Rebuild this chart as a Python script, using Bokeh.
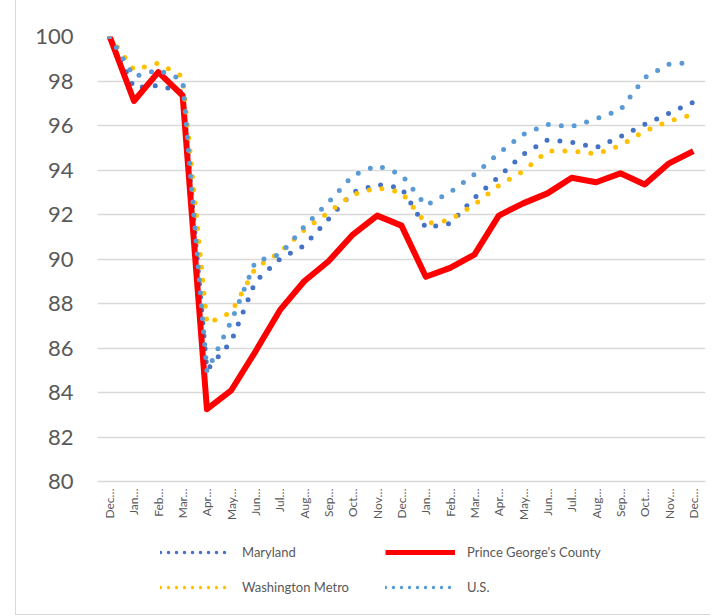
from bokeh.plotting import figure
from bokeh.layouts import column
from bokeh.models import Range1d, FixedTicker, Legend, LegendItem
from bokeh.embed import file_html
from bokeh.resources import INLINE
import math

months = ["Dec…", "Jan…", "Feb…", "Mar…", "Apr…", "May…", "Jun…", "Jul…", "Aug…", "Sep…",
          "Oct…", "Nov…", "Dec…", "Jan…", "Feb…", "Mar…", "Apr…", "May…", "Jun…", "Jul…",
          "Aug…", "Sep…", "Oct…", "Nov…", "Dec…"]

maryland = [100, 97.7, 97.8, 97.5, 85.0, 86.3, 89.0, 90.0, 90.6, 91.8, 93.0, 93.35, 93.2,
            91.4, 91.6, 92.75, 93.7, 94.7, 95.35, 95.25, 95.0, 95.5, 96.05, 96.55, 97.05]
prince_georges = [100, 97.1, 98.4, 97.35, 83.25, 84.1, 85.85, 87.7, 89.0, 89.9, 91.1, 91.95, 91.5,
                  89.2, 89.6, 90.2, 91.95, 92.5, 92.95, 93.65, 93.45, 93.85, 93.35, 94.3, 94.85]
washington_metro = [100, 98.5, 98.8, 98.2, 87.1, 87.6, 89.6, 90.3, 91.3, 92.1, 92.9, 93.2, 93.0,
                    91.6, 91.75, 92.45, 93.3, 93.95, 94.85, 94.85, 94.72, 95.1, 95.75, 96.2, 96.5]
us = [100, 98.2, 98.5, 98.05, 84.95, 87.2, 89.9, 90.2, 91.45, 92.55, 93.75, 94.2, 93.8,
      92.4, 93.0, 93.8, 94.75, 95.6, 96.05, 95.95, 96.3, 96.7, 98.15, 98.75, 98.85]

series_names = ["Maryland", "Prince George's County", "Washington Metro", "U.S."]
y_ticks = [80, 82, 84, 86, 88, 90, 92, 94, 96, 98, 100]

x = list(range(len(months)))
FONT = "Lato"
GRAY = "#595959"
COLORS = ["#4472C4", "#FF0000", "#FFC000", "#5B9BD5"]

p = figure(width=694, height=526, output_backend="svg", toolbar_location=None,
           x_range=Range1d(-0.5, len(months) - 0.5), y_range=Range1d(80, 100),
           min_border_left=81, min_border_right=5, min_border_top=36, min_border_bottom=45)
p.outline_line_color = None
p.background_fill_color = "white"
p.border_fill_color = "white"

p.xgrid.grid_line_color = None
p.ygrid.grid_line_color = "#d9d9d9"
p.ygrid.grid_line_width = 1.5
p.yaxis.ticker = FixedTicker(ticks=y_ticks)
p.yaxis.axis_line_color = None
p.yaxis.major_tick_line_color = None
p.yaxis.minor_tick_line_color = None
p.yaxis.major_tick_out = 0
p.yaxis.major_tick_in = 0
p.yaxis.major_label_text_font = FONT
p.yaxis.major_label_text_font_size = "22px"
p.yaxis.major_label_text_color = GRAY
p.yaxis.major_label_standoff = 24

p.xaxis.ticker = FixedTicker(ticks=x)
p.xaxis.major_label_overrides = {i: m for i, m in enumerate(months)}
p.xaxis.major_label_orientation = math.pi / 2
p.xaxis.axis_line_color = "#d9d9d9"
p.xaxis.axis_line_width = 1.5
p.xaxis.major_tick_line_color = None
p.xaxis.minor_tick_line_color = None
p.xaxis.major_tick_out = 0
p.xaxis.major_tick_in = 0
p.xaxis.major_label_text_font = FONT
p.xaxis.major_label_text_font_size = "12px"
p.xaxis.major_label_text_color = GRAY
p.xaxis.major_label_standoff = 7

dot = dict(line_width=5, line_dash="0 13", line_cap="round")
r_md = p.line(x, maryland, line_color=COLORS[0], **dot)
r_pg = p.line(x, prince_georges, line_color=COLORS[1], line_width=6, line_join="round")
r_wm = p.line(x, washington_metro, line_color=COLORS[2], **dot)
r_us = p.line(x, us, line_color=COLORS[3], **dot)

# Legend lives in its own strip below the chart (series drawn out of view there)
q = figure(width=694, height=88, output_backend="svg", toolbar_location=None,
           x_range=Range1d(0, 1), y_range=Range1d(0, 1),
           min_border_left=0, min_border_right=0, min_border_top=0, min_border_bottom=0)
q.axis.visible = False
q.grid.grid_line_color = None
q.outline_line_color = None
q.background_fill_color = "white"
q.border_fill_color = "white"
ldot = dict(line_width=3.5, line_dash="0 8", line_cap="round")
l_md = q.line(x, maryland, line_color=COLORS[0], **ldot)
l_pg = q.line(x, prince_georges, line_color=COLORS[1], line_width=5)
l_wm = q.line(x, washington_metro, line_color=COLORS[2], **ldot)
l_us = q.line(x, us, line_color=COLORS[3], **ldot)


def make_legend(items, loc):
    lg = Legend(items=items, location=loc)
    lg.glyph_width = 70
    lg.glyph_height = 20
    lg.label_height = 20
    lg.label_standoff = 12
    lg.spacing = 15
    lg.padding = 0
    lg.margin = 0
    lg.border_line_color = None
    lg.background_fill_alpha = 0
    lg.label_text_font = FONT
    lg.label_text_font_size = "13px"
    lg.label_text_color = GRAY
    return lg


left_legend = make_legend([LegendItem(label=series_names[0], renderers=[l_md]),
                           LegendItem(label=series_names[2], renderers=[l_wm])], (63, 17))
right_legend = make_legend([LegendItem(label=series_names[1], renderers=[l_pg]),
                            LegendItem(label=series_names[3], renderers=[l_us])], (288, 17))
q.add_layout(left_legend, "center")
q.add_layout(right_legend, "center")

layout = column(p, q, spacing=0,
                styles={"margin-left": "15px", "border-left": "1px solid #d9d9d9",
                        "border-bottom": "1px solid #d9d9d9"})

open("out.html", "w").write(file_html(layout, INLINE))
